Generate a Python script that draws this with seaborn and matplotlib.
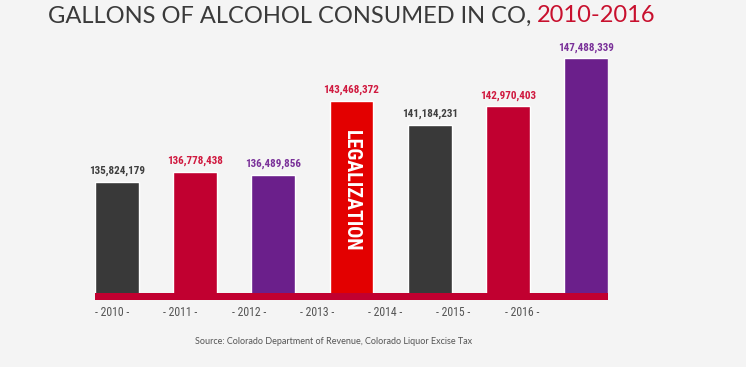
import matplotlib
matplotlib.use("Agg")
import matplotlib.pyplot as plt
import seaborn as sns
import pandas as pd

# ---- data ----
bar_ids = ["b1", "b2", "b3", "legal", "b5", "b6", "b7"]
gallons = [135824179, 136778438, 136489856, 143468372, 141184231, 142970403, 147488339]
bar_colors = ["#393939", "#c10030", "#6b1f8b", "#e30000", "#393939", "#c10030", "#6b1f8b"]
label_colors = ["#3f3f3f", "#d0193f", "#7a3199", "#d0193f", "#3f3f3f", "#d0193f", "#7a3199"]
tick_labels = ["2010", "2011", "2012", "2013", "2014", "2015", "2016"]

sns.set_theme(style="white")
plt.rcParams['font.family'] = ['Roboto Condensed', 'DejaVu Sans']

BG = "#f4f4f4"
fig = plt.figure(figsize=(7.46, 3.67), dpi=100, facecolor=BG)
ax = fig.add_axes([95/746, (367-300)/367, 513/746, 260/367])
ax.set_facecolor(BG)

df = pd.DataFrame({"bar": bar_ids, "value": [v/1e6 for v in gallons]})
sns.barplot(data=df, x="bar", y="value", hue="bar", palette=bar_colors,
            legend=False, width=0.56, ax=ax, saturation=1, zorder=2)

ymin, base = 124.71, 125.37
ax.set_ylim(ymin, 149.19)
ax.set_xlim(-0.28, 6.28)
ax.axhspan(ymin, base, color="#c10030", zorder=3, lw=0)

for i, (v, c) in enumerate(zip(gallons, label_colors)):
    ax.annotate(f"{v:,}", (i, v/1e6), xytext=(0, 4), textcoords="offset points",
                ha="center", va="bottom", fontsize=8, fontweight="bold", color=c)

ax.text(3, (base + 143.468372)/2 + 0.6, "LEGALIZATION", rotation=-90, ha="center", va="center",
        color="white", fontsize=14.5, fontweight="bold", zorder=4)

tick_pos = [-0.06 + i*0.873 for i in range(len(tick_labels))]
ax.set_xticks(tick_pos)
ax.set_xticklabels([f"- {t} -" for t in tick_labels], fontsize=8.5, color="#555555")
ax.tick_params(axis="x", length=0, pad=4)
ax.set_yticks([])
ax.set_xlabel("")
ax.set_ylabel("")
for s in ax.spines.values():
    s.set_visible(False)

title_y = 1 - 16/367
fig.text(48/746, title_y, "GALLONS OF ALCOHOL CONSUMED IN CO, ", fontsize=17,
         color="#3a3a3a", va="center", ha="left", family=["Lato", "DejaVu Sans"])
t = fig.texts[-1]
fig.canvas.draw()
bb = t.get_window_extent()
fig.text(bb.x1/746, title_y, "2010-2016", fontsize=17, color="#c8102e",
         va="center", ha="left", family=["Lato", "DejaVu Sans"])

fig.text(334/746, 1 - 341/367, "Source: Colorado Department of Revenue, Colorado Liquor Excise Tax",
         fontsize=6.5, color="#555555", ha="center", va="center", family=["Lato", "DejaVu Sans"])

fig.savefig("out.png", dpi=100, facecolor=BG)
